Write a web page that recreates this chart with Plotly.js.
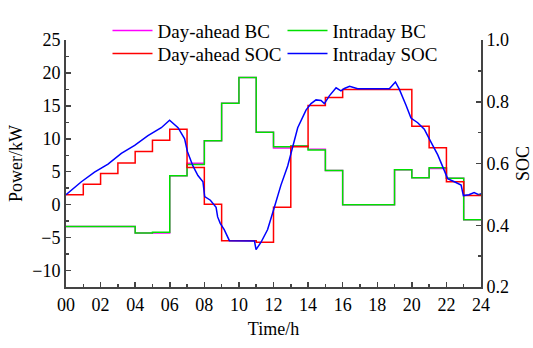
<!DOCTYPE html>
<html><head><meta charset="utf-8">
<script src="https://cdn.plot.ly/plotly-3.0.1.min.js"></script>
<style>html,body{margin:0;padding:0;background:#fff}#chart{width:533px;height:348px}</style>
</head><body><div id="chart"></div>
<script>
// hourly step boundaries
const hours = [0,1,2,3,4,5,6,7,8,9,10,11,12,13,14,15,16,17,18,19,20,21,22,23,24];
const tickVals = [0,2,4,6,8,10,12,14,16,18,20,22,24];
const tickLabels = ['00','02','04','06','08','10','12','14','16','18','20','22','24'];

// battery charge (kW), one value per hour
const dayAheadBC = [-3.3,-3.3,-3.3,-3.3,-4.3,-4.3,4.4,6.3,9.7,15.4,19.3,11.0,8.6,8.9,8.4,5.2,0,0,0,5.3,4.1,5.5,4.0,-2.3];
const intradayBC = [-3.3,-3.3,-3.3,-3.3,-4.3,-4.2,4.4,6.1,9.7,15.4,19.3,11.0,8.8,8.9,8.3,5.2,0,0,0,5.3,4.1,5.6,4.0,-2.3];

// day-ahead SOC, one value per hour
const dayAheadSOC = [0.499,0.533,0.568,0.602,0.639,0.675,0.711,0.587,0.468,0.350,0.350,0.345,0.458,0.654,0.788,0.814,0.840,0.840,0.840,0.840,0.721,0.651,0.541,0.496];

// intraday SOC trace
const intradayHours = [0,0.89,1.65,2.43,3.2,3.97,4.74,5.51,5.99,6.48,6.86,7.02,7.34,7.63,7.92,8.02,8.35,8.68,8.77,8.92,9.15,9.45,10.9,10.99,11.28,11.66,12.05,12.43,12.82,13.1,13.4,13.88,14.17,14.46,14.75,14.94,15.23,15.62,15.9,16.1,16.4,16.87,18.7,19.05,19.28,19.67,19.95,20.34,20.72,21.1,21.5,21.88,22.07,22.46,22.85,22.98,23.3,23.6,23.87,24];
const intradaySOC = [0.499,0.541,0.572,0.598,0.633,0.659,0.690,0.716,0.740,0.716,0.680,0.639,0.592,0.561,0.541,0.493,0.481,0.458,0.427,0.406,0.386,0.350,0.349,0.321,0.345,0.386,0.458,0.530,0.592,0.654,0.716,0.773,0.794,0.806,0.804,0.794,0.819,0.845,0.835,0.843,0.850,0.842,0.842,0.864,0.840,0.788,0.747,0.732,0.711,0.670,0.628,0.577,0.551,0.541,0.530,0.496,0.499,0.506,0.499,0.502];

const stepY = v => v.concat([v[v.length-1]]);
const FONT = 'Liberation Serif';

const traces = [
  {x: hours, y: stepY(dayAheadBC), name: 'Day-ahead BC', mode: 'lines', line: {shape: 'hv', color: '#ff00ff', width: 1.5}, yaxis: 'y', legend: 'legend'},
  {x: hours, y: stepY(intradayBC), name: 'Intraday BC', mode: 'lines', line: {shape: 'hv', color: '#00e000', width: 1.5}, yaxis: 'y', legend: 'legend'},
  {x: hours, y: stepY(dayAheadSOC), name: 'Day-ahead SOC', mode: 'lines', line: {shape: 'hv', color: '#ff0000', width: 1.5}, yaxis: 'y2', legend: 'legend2'},
  {x: intradayHours, y: intradaySOC, name: 'Intraday SOC', mode: 'lines', line: {color: '#0000ff', width: 1.5}, yaxis: 'y2', legend: 'legend2'}
];

function axisBase() {
  return {
    showline: true, linecolor: '#444', linewidth: 2,
    ticks: 'inside', ticklen: 5, tickwidth: 1.5, tickcolor: '#444',
    showgrid: false, zeroline: false,
    tickfont: {family: FONT, size: 18, color: '#000'}
  };
}
function legendBase(yPos) {
  return {orientation: 'h', x: 0.1, xanchor: 'left', y: yPos, yanchor: 'top',
          bgcolor: 'rgba(0,0,0,0)', font: {family: FONT, size: 19, color: '#000'},
          entrywidth: 120, entrywidthmode: 'pixels', itemwidth: 40};
}

const layout = {
  width: 533, height: 348,
  margin: {l: 66, r: 52, t: 28, b: 61},
  paper_bgcolor: '#fff', plot_bgcolor: '#fff',
  font: {family: FONT, size: 16, color: '#000'},
  showlegend: true,
  legend: legendBase(1.115),
  legend2: legendBase(1.022),
  xaxis: Object.assign(axisBase(), {
    range: [0, 24], tickmode: 'array', tickvals: tickVals, ticktext: tickLabels,
    minor: {dtick: 1, ticks: 'inside', ticklen: 3, tickcolor: '#444', tickwidth: 1.5},
    title: {text: 'Time/h', font: {family: FONT, size: 18, color: '#000'}, standoff: 9}
  }),
  yaxis: Object.assign(axisBase(), {
    range: [-12.5, 25], dtick: 5, tick0: 0,
    minor: {dtick: 2.5, ticks: 'inside', ticklen: 3, tickcolor: '#444', tickwidth: 1.5},
    title: {text: 'Power/kW', font: {family: FONT, size: 18, color: '#000'}, standoff: 5}
  }),
  yaxis2: Object.assign(axisBase(), {
    overlaying: 'y', side: 'right',
    range: [0.2, 1.0], dtick: 0.2, tick0: 0.2, tickformat: '.1f',
    minor: {dtick: 0.1, ticks: 'inside', ticklen: 3, tickcolor: '#444', tickwidth: 1.5},
    title: {text: 'SOC', font: {family: FONT, size: 18, color: '#000'}, standoff: 12}
  })
};

Plotly.newPlot('chart', traces, layout, {displayModeBar: false, staticPlot: true});
</script>
</body></html>
